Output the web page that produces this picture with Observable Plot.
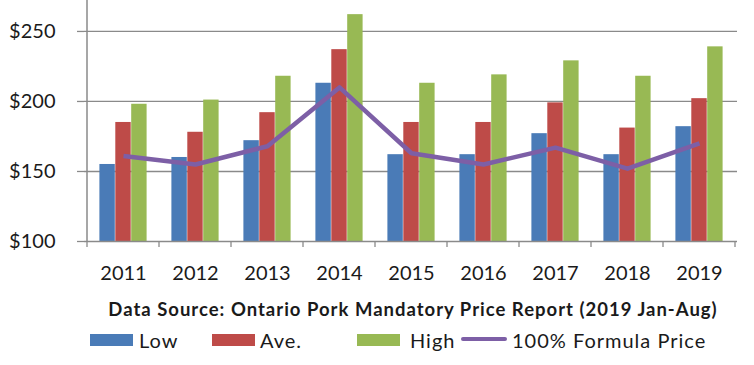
<!DOCTYPE html>
<html>
<head>
<meta charset="utf-8">
<script src="https://cdn.jsdelivr.net/npm/d3@7"></script>
<script src="https://cdn.jsdelivr.net/npm/@observablehq/plot@0.6"></script>
<style>
  html, body { margin: 0; padding: 0; background: #fff; }
  #wrap { position: relative; width: 754px; height: 365px; font-family: Lato, "Open Sans", sans-serif; color: #1a1a1a; overflow: hidden; }
  #chart { position: absolute; left: 0; top: 0; }
  #source { position: absolute; left: 0; width: 754px; top: 298px; text-align: center; font-weight: bold; font-size: 18.5px; letter-spacing: 1px; line-height: 22px; padding-left: 72px; box-sizing: border-box; white-space: nowrap; }
  .sw { position: absolute; top: 334px; width: 43px; height: 12px; }
  .lt { position: absolute; top: 328px; font-size: 20px; letter-spacing: 1px; line-height: 24px; white-space: nowrap; }
  .ln { position: absolute; top: 337px; width: 46px; height: 4px; border-radius: 2px; }
</style>
</head>
<body>
<div id="wrap">
  <div id="chart"></div>
  <div id="source"></div>
  <div id="legend"></div>
</div>
<script>
const years = ["2011", "2012", "2013", "2014", "2015", "2016", "2017", "2018", "2019"];
const low = [155, 160, 172, 213, 162, 162, 177, 162, 182];
const ave = [185, 178, 192, 237, 185, 185, 199, 181, 202];
const high = [198, 201, 218, 262, 213, 219, 229, 218, 239];
const formula = [161, 155, 168, 210, 163, 155, 167, 152, 170];
const yTicks = [100, 150, 200, 250];
const seriesNames = ["Low", "Ave.", "High", "100% Formula Price"];
const sourceText = "Data Source: Ontario Pork Mandatory Price Report (2019 Jan-Aug)";

const colors = { low: "#4a7bb7", ave: "#be4b48", high: "#98b954", formula: "#7d5fa6" };
const data = years.map((year, i) => ({ year, low: low[i], ave: ave[i], high: high[i], formula: formula[i] }));

const gridColor = "#8a8a8a";
const plot = Plot.plot({
  width: 754,
  height: 290,
  marginLeft: 84,
  marginRight: 17,
  marginTop: 0,
  marginBottom: 49,
  x: { type: "band", domain: years, padding: 0, label: null },
  y: { domain: [100, 272.1], label: null },
  style: { fontFamily: "Lato, 'Open Sans', sans-serif", color: "#1a1a1a", background: "#fff" },
  marks: [
    Plot.ruleY(yTicks.slice(1), { stroke: gridColor, strokeWidth: 1.3 }),
    Plot.barY(data, { x: "year", y1: 100, y2: "low", fill: colors.low, insetLeft: 12.4, insetRight: 44.2 }),
    Plot.barY(data, { x: "year", y1: 100, y2: "ave", fill: colors.ave, insetLeft: 28.3, insetRight: 28.3 }),
    Plot.barY(data, { x: "year", y1: 100, y2: "high", fill: colors.high, insetLeft: 44.2, insetRight: 12.4 }),
    Plot.lineY(data, { x: "year", y: "formula", stroke: colors.formula, strokeWidth: 4.5, strokeLinejoin: "round", strokeLinecap: "butt" }),
    Plot.ruleY([100], { stroke: gridColor, strokeWidth: 1.5 }),
    Plot.axisY({ ticks: yTicks, tickFormat: d => "$" + d, tickSize: 7, tickPadding: 22, fontSize: 20, stroke: gridColor, strokeWidth: 1.3, color: "#1a1a1a" }),
    Plot.axisX({ tickSize: 0, tickPadding: 24, fontSize: 20 })
  ]
});

// axis line on the left and category boundary ticks, placed with the plot's x scale
const xs = plot.scale("x");
const ys = plot.scale("y");
const svg = d3.select(plot);
const bw = xs.bandwidth;
const x0 = xs.apply(years[0]);
const yBottom = ys.apply(100);
const yTop = ys.apply(272.1);
svg.append("line").attr("x1", x0).attr("x2", x0).attr("y1", yTop).attr("y2", yBottom)
  .attr("stroke", gridColor).attr("stroke-width", 1.5);
const bounds = years.map(y => xs.apply(y)).concat([xs.apply(years[years.length - 1]) + bw]);
svg.append("g").selectAll("line").data(bounds).join("line")
  .attr("x1", d => d).attr("x2", d => d).attr("y1", yBottom).attr("y2", yBottom + 6)
  .attr("stroke", gridColor).attr("stroke-width", 1.3);

document.getElementById("chart").appendChild(plot);
document.getElementById("source").textContent = sourceText;

// legend
const legend = document.getElementById("legend");
const items = [
  { name: seriesNames[0], color: colors.low, sx: 90, tx: 139, kind: "bar" },
  { name: seriesNames[1], color: colors.ave, sx: 212, tx: 260, kind: "bar" },
  { name: seriesNames[2], color: colors.high, sx: 357, tx: 410, kind: "bar" },
  { name: seriesNames[3], color: colors.formula, sx: 461, tx: 512, kind: "line" }
];
for (const it of items) {
  const s = document.createElement("div");
  s.className = it.kind === "bar" ? "sw" : "ln";
  s.style.left = it.sx + "px";
  s.style.background = it.color;
  legend.appendChild(s);
  const t = document.createElement("div");
  t.className = "lt";
  t.style.left = it.tx + "px";
  t.textContent = it.name;
  legend.appendChild(t);
}
</script>
</body>
</html>
